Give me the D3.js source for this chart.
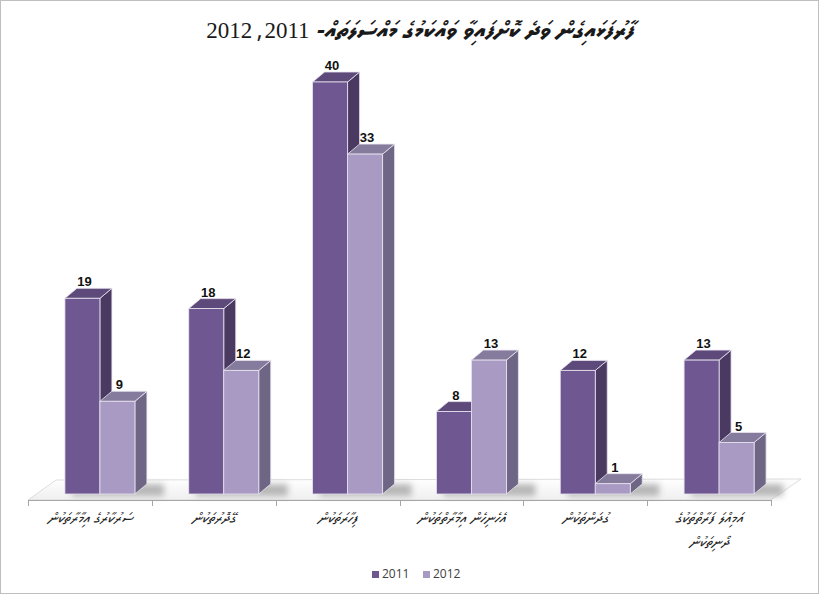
<!DOCTYPE html>
<html>
<head>
<meta charset="utf-8">
<script src="https://cdn.jsdelivr.net/npm/d3@7"></script>
<style>
  body { margin: 0; background: #fff; }
  svg { display: block; }
</style>
</head>
<body>
<svg width="822" height="597"></svg>
<script>
// Data
const categories = [
    ["ސަރުކާރުގެ އިމާރާތަކުން"],
    ["ގޭދޮރުތަކުން"],
    ["ފިހާރަތަކުން"],
    ["އެހެނިހެން އިމާރާތްތަކުން"],
    ["ގުދަންތަކުން"],
    ["އަމިއްލަ ފަރާތްތަކުގެ", "ދޯނިތަކުން"]
];
const values2011 = [19, 18, 40, 8, 12, 13];
const values2012 = [9, 12, 33, 13, 1, 5];
const seriesNames = ["2011", "2012"];
const titleWords = "ފާރުފަޅައިގެން ވަދެ ކޮށްފައިވާ ވައްކަމުގެ މައްސަލަތައް-";
const titleYears = " 2011، 2012";

const svg = d3.select('svg');
const thaanaFont = "'Noto Sans Thaana', 'DejaVu Sans', 'FreeSerif', sans-serif";

// frame
svg.append('rect')
    .attr('x', 0.5).attr('y', 0.5)
    .attr('width', 818).attr('height', 593)
    .attr('fill', '#fff')
    .attr('stroke', '#bfbfbf');

// title
const title = svg.append('text')
    .attr('x', 420)
    .attr('y', 38)
    .attr('text-anchor', 'middle')
    .attr('direction', 'rtl')
    .style('font-family', "'Liberation Serif', " + thaanaFont)
    .style('font-size', '23px')
    .attr('fill', '#1a1a1a');
title.append('tspan')
    .style('font-family', thaanaFont)
    .style('font-weight', 'bold')
    .style('font-style', 'italic')
    .style('font-size', '24px')
    .text(titleWords);
title.append('tspan')
    .text(titleYears);

const x = d3.scaleBand()
    .domain(d3.range(categories.length))
    .range([28, 771]);

const y = d3.scaleLinear()
    .domain([0, 40])
    .range([494, 82]);

const dx = 12, dy = -10;
const barW = 35;
const colors = {
    "2011": { front: '#6f5791', side: '#4a3a62', top: '#5d4a7a' },
    "2012": { front: '#a99ac3', side: '#6e6684', top: '#857b9c' }
};

// floor
const defs = svg.append('defs');
const grad = defs.append('linearGradient')
    .attr('id', 'floorGrad')
    .attr('x1', 0).attr('y1', 0).attr('x2', 0).attr('y2', 1);
grad.append('stop').attr('offset', '0%').attr('stop-color', '#ffffff');
grad.append('stop').attr('offset', '100%').attr('stop-color', '#efefef');

const filter = defs.append('filter').attr('id', 'blur')
    .attr('x', '-20%').attr('y', '-50%').attr('width', '140%').attr('height', '200%');
filter.append('feGaussianBlur').attr('stdDeviation', 3);

const [r0, r1] = x.range();
svg.append('polygon')
    .attr('points', [[r0, 500], [r0 + 28, 480], [r1 + 30, 479], [r1, 500]].join(' '))
    .attr('fill', 'url(#floorGrad)')
    .attr('stroke', '#d6d6d6')
    .attr('stroke-width', 0.8);

// shadows under bar groups
svg.append('g').selectAll('rect')
    .data(categories)
    .join('rect')
    .attr('x', (d, i) => x(i) + x.bandwidth() / 2 - 18)
    .attr('y', 484)
    .attr('width', 2 * barW + 22)
    .attr('height', 12)
    .attr('fill', '#8c8c8c')
    .attr('opacity', 0.6)
    .attr('filter', 'url(#blur)');

// axis line with ticks
const axis = svg.append('g');
axis.append('line')
    .attr('x1', r0).attr('x2', r1)
    .attr('y1', 500.5).attr('y2', 500.5)
    .attr('stroke', '#a6a6a6');
axis.selectAll('.tick')
    .data(d3.range(categories.length + 1))
    .join('line')
    .attr('x1', i => Math.round(r0 + i * x.step()) + 0.5)
    .attr('x2', i => Math.round(r0 + i * x.step()) + 0.5)
    .attr('y1', 500).attr('y2', 506)
    .attr('stroke', '#a6a6a6');

// bars
function drawBar(g, x0, v, c) {
    const top = y(v), base = y(0);
    g.append('polygon')
        .attr('points', [[x0 + barW, top], [x0 + barW + dx, top + dy], [x0 + barW + dx, base + dy], [x0 + barW, base]].join(' '))
        .attr('fill', c.side)
        .attr('stroke', '#e8e4ef').attr('stroke-width', 0.8);
    g.append('polygon')
        .attr('points', [[x0, top], [x0 + dx, top + dy], [x0 + barW + dx, top + dy], [x0 + barW, top]].join(' '))
        .attr('fill', c.top)
        .attr('stroke', '#e8e4ef').attr('stroke-width', 0.8);
    g.append('rect')
        .attr('x', x0).attr('y', top)
        .attr('width', barW).attr('height', base - top)
        .attr('fill', c.front)
        .attr('stroke', '#e8e4ef').attr('stroke-width', 0.8);
    g.append('text')
        .attr('x', x0 + barW / 2 + 2)
        .attr('y', top + dy - 2)
        .attr('text-anchor', 'middle')
        .style('font-family', "'Liberation Sans', Arial, sans-serif")
        .style('font-size', '13px')
        .style('font-weight', 'bold')
        .attr('fill', '#111')
        .text(v);
}

const bars = svg.append('g');
categories.forEach((cat, i) => {
    const cx = x(i) + x.bandwidth() / 2 + 10;
    drawBar(bars, cx - barW, values2011[i], colors["2011"]);
    drawBar(bars, cx, values2012[i], colors["2012"]);
});

// category labels
const labels = svg.append('g')
    .selectAll('text')
    .data(categories)
    .join('text')
    .attr('x', (d, i) => x(i) + x.bandwidth() / 2)
    .attr('y', 523)
    .attr('text-anchor', 'middle')
    .attr('direction', 'rtl')
    .style('font-family', thaanaFont)
    .style('font-size', '15px')
    .style('font-style', 'italic')
    .attr('fill', '#222');
labels.selectAll('tspan')
    .data(d => d)
    .join('tspan')
    .attr('x', function () { return d3.select(this.parentNode).attr('x'); })
    .attr('dy', (d, i) => i === 0 ? 0 : 24)
    .text(d => d);

// legend
const legend = svg.append('g').attr('transform', 'translate(372,578)');
const item = legend.selectAll('g')
    .data(seriesNames)
    .join('g')
    .attr('transform', (d, i) => `translate(${i * 51},0)`);
item.append('rect')
    .attr('x', 0).attr('y', -7)
    .attr('width', 7).attr('height', 7)
    .attr('fill', d => colors[d].front);
item.append('text')
    .attr('x', 10).attr('y', 0)
    .style('font-family', "'Open Sans', 'Liberation Sans', sans-serif")
    .style('font-size', '12px')
    .attr('fill', '#404040')
    .text(d => d);
</script>
</body>
</html>
